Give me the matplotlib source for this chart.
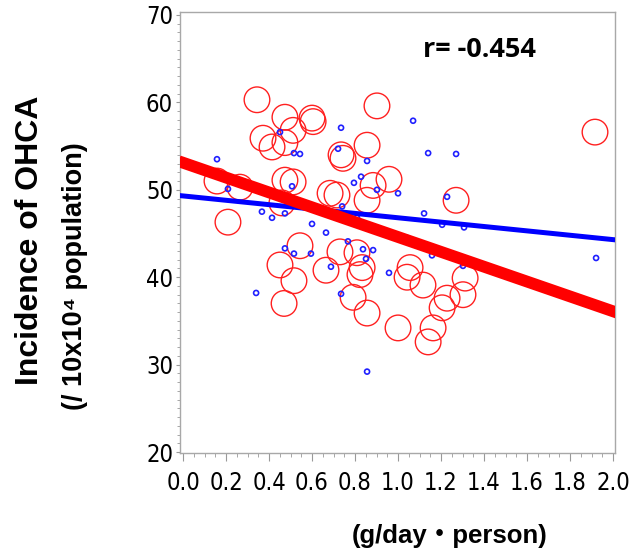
import numpy as np
import matplotlib
matplotlib.use("Agg")
import matplotlib.pyplot as plt
from matplotlib import font_manager as fm
from matplotlib.ticker import MultipleLocator

# red circles: incidence of OHCA by prefecture
red_x = [0.158, 0.265, 0.209, 0.344, 0.474, 0.600, 0.605, 0.512, 0.372, 0.414,
         0.474, 0.474, 0.512, 0.460, 0.684, 0.716, 0.735, 0.744, 0.856, 0.902,
         0.958, 0.884, 0.856, 1.270, 1.916, 0.544, 0.451, 0.516, 0.470, 0.665,
         0.730, 0.809, 0.833, 0.823, 0.791, 0.856, 1.000, 1.042, 1.056, 1.116,
         1.205, 1.228, 1.163, 1.140, 1.302, 1.312]
red_y = [51.0, 50.3, 46.3, 60.3, 58.3, 58.2, 57.8, 56.8, 55.9, 54.9,
         55.4, 51.1, 50.9, 48.5, 49.6, 49.4, 54.0, 53.6, 55.1, 59.6,
         51.2, 50.5, 48.8, 48.8, 56.6, 43.6, 41.4, 39.6, 37.0, 40.8,
         42.9, 42.8, 41.1, 40.3, 37.7, 35.9, 34.2, 40.0, 41.1, 39.1,
         36.5, 37.6, 34.2, 32.6, 38.0, 39.9]

# blue dots
blue_x = [0.158, 0.209, 0.260, 0.451, 0.516, 0.544, 0.507, 0.460, 0.474, 0.735,
          0.721, 0.856, 0.795, 0.828, 0.902, 1.000, 1.070, 1.140, 1.270, 1.228,
          0.367, 0.414, 0.474, 0.740, 0.809, 0.600, 0.665, 0.767, 1.121, 1.205,
          1.307, 1.042, 0.474, 0.516, 0.595, 0.837, 0.884, 0.851, 0.688, 0.958,
          1.158, 1.302, 1.921, 0.340, 0.735, 0.856]
blue_y = [53.5, 50.1, 50.8, 56.6, 54.2, 54.1, 50.4, 49.2, 49.2, 57.1,
          54.7, 53.3, 50.8, 51.5, 50.0, 49.6, 57.9, 54.2, 54.1, 49.2,
          47.5, 46.8, 47.3, 48.1, 46.8, 46.1, 45.1, 44.1, 47.3, 46.0,
          45.7, 44.5, 43.3, 42.7, 42.7, 43.2, 43.1, 42.1, 41.2, 40.5,
          42.5, 41.3, 42.2, 38.2, 38.1, 29.2]

# regression lines (intercept, slope)
red_fit = (53.1, -8.5)
blue_fit = (49.3, -2.5)

x_ticks = [0.0, 0.2, 0.4, 0.6, 0.8, 1.0, 1.2, 1.4, 1.6, 1.8, 2.0]
y_ticks = [20, 30, 40, 50, 60, 70]

# pick a narrow font for the tick numbers if one is around
names = set(f.name for f in fm.fontManager.ttflist)
tick_font = dict(family="Liberation Sans")
if "Liberation Sans Narrow" in names:
    tick_font = dict(family="Liberation Sans Narrow")
elif any(f.name == "DejaVu Sans" and f.stretch == "condensed"
         for f in fm.fontManager.ttflist):
    tick_font = dict(family="DejaVu Sans", stretch="condensed")

fig = plt.figure(figsize=(6.32, 5.53), dpi=100)
ax = fig.add_axes([180 / 632, 1 - 453 / 553, 435 / 632, 441 / 553])

ax.scatter(red_x, red_y, s=340, facecolors="none", edgecolors="#ff2020",
           linewidths=1.0, zorder=2)
ax.scatter(blue_x, blue_y, s=13, facecolors="none", edgecolors="#2020ff",
           linewidths=1.2, zorder=3)

xs = np.array([-0.02, 2.02])
ax.plot(xs, blue_fit[0] + blue_fit[1] * xs, color="#0000ff", lw=3.6,
        solid_capstyle="butt", zorder=4)
ax.plot(xs, red_fit[0] + red_fit[1] * xs, color="#ff0000", lw=8.5,
        solid_capstyle="butt", zorder=5)

ax.set_xlim(-0.014, 2.009)
ax.set_ylim(19.89, 70.34)
ax.set_xticks(x_ticks)
ax.set_yticks(y_ticks)
ax.set_xticklabels([f"{v:.1f}" for v in x_ticks])
ax.set_yticklabels([str(v) for v in y_ticks])
ax.xaxis.set_minor_locator(MultipleLocator(0.05))
ax.yaxis.set_minor_locator(MultipleLocator(1))
for lab in ax.get_xticklabels() + ax.get_yticklabels():
    lab.set_fontsize(17)
    lab.set_family(tick_font["family"])
    if "stretch" in tick_font:
        lab.set_stretch(tick_font["stretch"])

ax.tick_params(axis="x", which="major", length=6, color="#999999", pad=7)
ax.tick_params(axis="x", which="minor", length=3, color="#999999")
ax.tick_params(axis="y", which="major", length=3, color="#999999", pad=2)
ax.tick_params(axis="y", which="minor", length=2, color="#999999")
for sp in ax.spines.values():
    sp.set_color("#a8a8a8")
    sp.set_linewidth(1.0)

lab_font = ["Liberation Sans", "DejaVu Sans"]
fig.text(30 / 632, 1 - 240 / 553, "Incidence of OHCA", rotation=90,
         ha="center", va="center", fontsize=23, fontweight="bold",
         family=lab_font)
fig.text(75 / 632, 1 - 276 / 553, "(/ 10x10\u2074 population)", rotation=90,
         ha="center", va="center", fontsize=19.5, fontweight="bold",
         family=lab_font)
fig.text(450 / 632, 1 - 536 / 553, "(g/day\u30fbperson)", ha="center",
         va="center", fontsize=18.5, fontweight="bold",
         family=["Liberation Sans", "Noto Sans CJK JP"])
fig.text(479 / 632, 1 - 50 / 553, "r= -0.454", ha="center", va="center",
         fontsize=19.5, fontweight="bold", family=["Open Sans", "DejaVu Sans"])

fig.savefig("out.png", dpi=100)
